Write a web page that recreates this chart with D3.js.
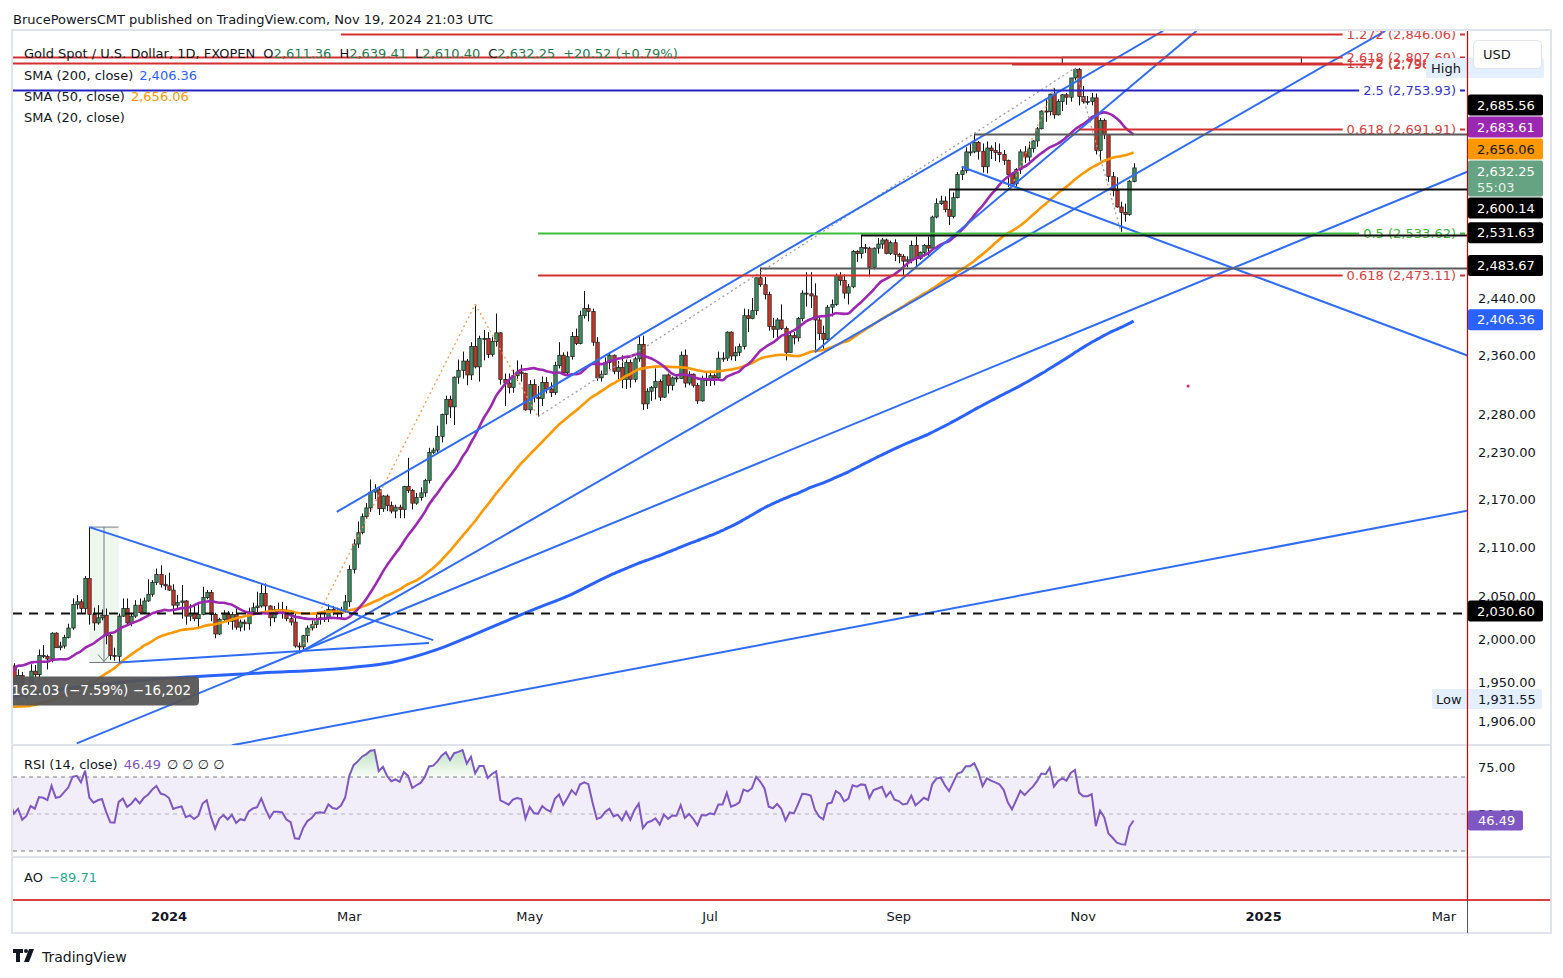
<!DOCTYPE html>
<html>
<head>
<meta charset="utf-8">
<title>Gold Spot / U.S. Dollar, 1D</title>
<script src="https://cdn.jsdelivr.net/npm/d3@7"></script>
<style>
  body { margin: 0; background: #ffffff; }
  text { font-family: "DejaVu Sans", Roboto, "Liberation Sans", sans-serif; }
</style>
</head>
<body>
<svg id="chart" width="1563" height="978"></svg>
<script>
const width = 1563, height = 978;
const plotLeft = 13, plotRight = 1467, axisRight = 1550;
const priceTop = 31, priceBottom = 745, rsiBottom = 857, aoBottom = 900, chartBottom = 933;

// closes before the visible range, only used to warm up SMA / RSI (Aug 21 - Nov 3 2023)
const warmupCloses = [1895,1898,1915,1917,1914, 1920,1937,1942,1940,1940, 1938,1926,1916,1919,1919,
  1922,1913,1908,1910,1924, 1934,1931,1930,1920,1925, 1916,1901,1875,1864,1849,
  1828,1822,1821,1820,1833, 1861,1860,1874,1869,1932, 1919,1923,1947,1974,1981,
  1973,1971,1979,1985,2006, 1996,1983,1982,1985,1992];

const candleStart = '2023-11-06';
const opens = [
  1992,1978,1969,1950,1958, 1940,1946,1963,1959,1981, 1980,1977,2007,1990,1992, 2002,2013,2041,2044,2036,
  2072,2029,2019,2025,2028, 2004,1981,1980,2027,2036, 2019,2027,2040,2031,2045, 2053,2067,2077,2065,
  2063,2058,2040,2043,2045,2027,2030,2024,2029,2049,2055,2029,2006,2023,2029,2021,2029,2014,2020,2018,2032,2037,
  2039,2054,2039,2025,2035,2035,2034,2024,2020,1992,1991,2004,2013,2017,2024,2024,2024,2035,2031,2030,2034,
  2044,2083,2114,2128,2148,2159,2179,2182,2158,2174,2162,2155,2160,2157,2186,2181,2165,2172,2178,2194,2230,
  2233,2251,2280,2300,2290,2330,2339,2352,2333,2372,2344,2383,2383,2361,2379,2391,2327,2322,2316,2332,2337,2335,
  2286,2320,2303,2301,2323,2314,2309,2346,2360,2336,2358,2386,2376,2415,2425,2421,2378,2329,2334,2350,2360,2338,2343,
  2327,2350,2327,2355,2375,2294,2311,2316,2324,2303,2333,2319,2329,2328,2360,2322,2334,2319,2298,2327,
  2326,2332,2329,2356,2356,2392,2359,2364,2372,2415,2411,2422,2469,2459,2445,2400,2396,2409,2397,2364,2387,2384,2411,
  2447,2446,2443,2409,2390,2382,2427,2431,2472,2465,2447,2456,2507,2504,2513,2512,2484,2512,2518,2524,2504,2520,
  2503,2500,2493,2495,2516,2497,2506,2516,2512,2558,2578,2582,2569,2559,2587,2622,2628,2657,2657,2672,2658,
  2634,2663,2659,2656,2653,2644,2622,2608,2630,2657,2649,2662,2674,2693,2721,2720,2748,2715,2736,2747,2743,2774,2788,
  2744,2736,2736,2742,2659,2706,2684,2619,2598,2573,2565,2562,2611.36];
const highs = [
  1994,1980,1972,1965,1962, 1947,1971,1970,1988,1993, 1982,2008,2008,1997,2005, 2018,2048,2052,2047,2075,
  2135,2037,2040,2035,2036, 2008,1990,2030,2048,2048, 2031,2046,2048,2049,2071, 2070,2084,2088,2076,
  2079,2065,2052,2064,2046,2041,2040,2041,2062,2058,2058,2031,2025,2034,2033,2032,2036,2023,2023,2037,2043,2056,
  2065,2066,2040,2039,2043,2044,2039,2032,2031,1996,2005,2016,2022,2031,2031,2034,2041,2039,2037,2038,2052,
  2088,2120,2142,2152,2165,2195,2189,2184,2175,2176,2167,2163,2163,2187,2223,2183,2178,2185,2196,2236,2236,
  2265,2281,2305,2305,2331,2354,2365,2355,2378,2431,2387,2395,2392,2385,2418,2392,2335,2335,2340,2353,2347,2336,
  2326,2327,2318,2331,2330,2323,2351,2378,2364,2365,2392,2397,2422,2450,2431,2425,2385,2339,2357,2364,2361,2352,2360,
  2354,2354,2358,2388,2387,2315,2318,2342,2327,2333,2335,2331,2334,2365,2368,2338,2335,2322,2332,2338,
  2339,2335,2365,2364,2393,2393,2372,2376,2425,2424,2440,2469,2483.67,2470,2449,2412,2412,2431,2400,2391,2392,2413,2451,
  2477,2477,2461,2414,2401,2430,2438,2475,2477,2474,2460,2509,2509,2531.63,2518,2514,2513,2527,2527,2526,2523,2525,
  2505,2503,2500,2523,2529,2507,2518,2529,2560,2586,2590,2589,2600.14,2595,2626,2634,2664,2670,2685.56,2674,2670,
  2673,2667,2672,2670,2660,2645,2625,2632,2661,2666,2673,2675,2696,2722,2740,2749,2758,2740,2748,2750,2774,2790,2790.1,
  2761,2745,2750,2749,2710,2709,2685,2626,2618,2581,2578,2614,2639.41];
const lows = [
  1965,1957,1947,1944,1935, 1931.55,1945,1956,1954,1978, 1965,1973,1990,1987,1989, 2001,2011,2035,2031,2031,
  2017,2010,2017,2022,1994, 1976,1975,1972.97,2026,2017, 2015,2025,2029,2030,2044, 2050,2064,2061,2058,
  2057,2030,2034,2024,2017,2021,2021,2013,2028,2047,2021,2001,2005,2020,2017,2011,2011,2009,2010,2011,2028,2031,
  2037,2031,2015,2020,2030,2024,2021,2016,1990,1984,1987,1996,2010,2013,2017,2020,2020,2028,2025,2025,2031,
  2038,2078,2109,2126,2145,2154,2170,2150,2154,2155,2152,2146,2146,2146,2178,2157,2163,2168,2173,2190,2228,
  2228,2243,2267,2275,2266,2321,2328,2319,2326,2342,2324,2353,2356,2358,2372,2320,2291,2308,2309,2325,2324,2285,
  2281,2296,2277,2291,2308,2303,2306,2342,2333,2334,2354,2374,2375,2411,2407,2373,2325,2324,2333,2341,2334,2327,2315,
  2314,2316,2323,2351,2286,2287,2298,2300,2298,2302,2308,2312,2323,2328,2316,2319,2316,2294,2297,2318,
  2318,2319,2327,2351,2352,2353,2352,2359,2368,2392,2410,2416,2456,2438,2394,2384,2384,2395,2353,2364,2375,2379,2407,
  2428,2426,2364,2381,2369,2381,2414,2429,2458,2439,2431,2454,2492,2497,2505,2471,2481,2504,2511,2503,2502,2493,
  2490,2472,2484,2490,2485,2495,2500,2500,2510,2556,2576,2565,2546,2556,2586,2614,2624,2651,2655,2645,2625,
  2624,2646,2643,2641,2637,2603,2605,2604,2623,2640,2643,2656,2665,2692,2704,2714,2709,2714,2721,2731,2736,2770,2730,
  2733,2731,2730,2653,2643,2677,2611,2589,2572,2536,2551,2560,2610.40];
const closes = [
  1978,1969,1950,1958,1940, 1946,1963,1959,1981,1980, 1977,2007,1990,1992,2002, 2013,2041,2044,2036,2072,
  2029,2019,2025,2028,2004, 1981,1980,2027,2036,2019, 2027,2040,2031,2045,2053, 2067,2077,2065,2063,
  2058,2040,2043,2045,2027,2030,2024,2029,2049,2055,2029,2006,2023,2029,2021,2029,2014,2020,2018,2032,2037,2039,
  2054,2039,2025,2035,2035,2034,2024,2020,1992,1991,2004,2013,2017,2024,2025,2024,2035,2031,2030,2034,2044,
  2083,2114,2128,2148,2159,2179,2182,2158,2174,2162,2155,2160,2157,2186,2181,2165,2172,2178,2194,2230,2233,
  2251,2280,2300,2290,2330,2339,2352,2333,2372,2344,2383,2383,2361,2379,2391,2327,2322,2316,2332,2337,2335,2286,
  2320,2303,2301,2323,2314,2309,2346,2360,2336,2358,2386,2376,2415,2425,2421,2378,2329,2334,2350,2360,2338,2343,2327,
  2350,2327,2355,2375,2294,2311,2316,2324,2303,2333,2319,2329,2328,2360,2322,2334,2319,2298,2327,2326,
  2332,2329,2356,2356,2392,2359,2364,2372,2415,2411,2422,2469,2459,2445,2400,2396,2409,2397,2364,2387,2384,2411,2447,
  2446,2443,2409,2390,2382,2427,2431,2472,2465,2447,2456,2507,2504,2513,2512,2484,2512,2518,2524,2504,2520,2503,
  2500,2493,2495,2516,2497,2506,2516,2512,2558,2578,2582,2569,2559,2587,2622,2628,2657,2657,2672,2658,2634,
  2663,2659,2656,2653,2644,2622,2608,2630,2657,2649,2662,2674,2693,2721,2720,2748,2715,2736,2747,2743,2774,2788,2744,
  2736,2736,2742,2659,2706,2684,2619,2598,2573,2565,2562,2612,2632.25];

const sma200EarlyDates = ['2023-11-06','2023-12-01','2024-01-02','2024-02-01','2024-03-01','2024-03-15',
  '2024-04-01','2024-04-15','2024-05-01','2024-05-15'];
const sma200EarlyValues = [1932,1946,1955,1961,1967,1973,1988,2008,2033,2053];

// horizontal levels (fib drawings and price lines)
const levelValues = [2846.06, 2807.69, 2798.42, 2796.50, 2753.93, 2691.91, 2685.56, 2600.14, 2533.62, 2531.63, 2483.67, 2473.11, 2030.60];
const levelStarts = ['2024-02-28','2023-11-06','2023-11-06','2024-10-09','2023-11-06','2024-10-31','2024-09-26',
  '2024-09-18','2024-05-03','2024-08-20','2024-07-17','2024-05-03','2023-11-06'];
const levelTexts = ['1.272 (2,846.06)','2.618 (2,807.69)','1.272 (2,798.42)','2 (2,796.50)','2.5 (2,753.93)',
  '0.618 (2,691.91)','','','0.5 (2,533.62)','','','0.618 (2,473.11)',''];
const levelKinds = ['fibRed','fibRed','fibRed','fibRed','fibBlue','fibRed','gray','black','fibGreen','black','gray','fibRed','dashed'];

// trend lines
const trendFromDates = ['2024-02-27','2024-08-05','2024-02-14','2023-11-29','2024-01-23','2023-12-04','2023-12-13','2024-09-23'];
const trendFromPrices = [2154, 2364, 1984, 1882, 1880, 2135, 1972.97, 2634];
const trendToDates = ['2024-11-28','2024-12-10','2025-02-11','2025-03-11','2025-03-11','2024-03-29','2024-03-28','2025-03-11'];
const trendToPrices = [2851, 2851, 2851, 2627.5, 2156, 1998.8, 1995.4, 2358.7];

// dotted connectors of the fib tools
const dotFromDates = ['2024-02-14','2024-04-12','2024-05-03','2024-10-30','2024-10-09'];
const dotFromPrices = [1984, 2431, 2277, 2790, 2605];
const dotToDates = ['2024-04-12','2024-05-03','2024-10-30','2024-11-14','2024-10-23'];
const dotToPrices = [2431, 2277, 2790, 2536, 2758];
const dotKinds = ['orange','orange','gray','gray','orange'];

// price axis
const priceTicks = [2440, 2360, 2280, 2230, 2170, 2110, 2050, 2000, 1950, 1906];
const badgeValues = [2685.56, 2683.61, 2656.06, 2632.25, 2600.14, 2531.63, 2483.67, 2406.36, 2030.60];
const badgeKinds = ['black','sma20','sma50','last','black','black','black','sma200','black'];
const rsiTicks = [75, 50];
const rsiLast = 46.49;

const upColor = '#3f8f61', downColor = '#c2382c';

// ---- calendar of trading days ----
const holidays = ['2023-12-25', '2024-01-01'];
const fmtDay = d3.utcFormat('%Y-%m-%d');
const days = d3.utcDays(new Date(Date.UTC(2023, 7, 21)), new Date(Date.UTC(2025, 4, 1)))
  .filter(d => d.getUTCDay() % 6 !== 0 && !holidays.includes(fmtDay(d)));
const dayIndex = new Map(days.map((d, i) => [fmtDay(d), i]));
const idx = s => dayIndex.get(s);

const x = d3.scaleLinear()
  .domain([idx('2023-11-08') - 0.2, idx('2025-03-11') - 0.5])
  .range([plotLeft, plotRight]);
const y = d3.scaleLog().domain([1880.3, 2851]).range([priceBottom, priceTop]);
const yRsi = d3.scaleLinear().domain([30, 70]).range([851, 777]);
const fmtPrice = d3.format(',.2f');

const svg = d3.select('#chart');
const defs = svg.append('defs');
defs.append('clipPath').attr('id', 'clipPrice').append('rect')
  .attr('x', plotLeft).attr('y', priceTop).attr('width', plotRight - plotLeft).attr('height', priceBottom - priceTop);
defs.append('clipPath').attr('id', 'clipRsi').append('rect')
  .attr('x', plotLeft).attr('y', priceBottom).attr('width', plotRight - plotLeft).attr('height', rsiBottom - priceBottom);
defs.append('clipPath').attr('id', 'clipOb').append('rect')
  .attr('x', plotLeft).attr('y', priceBottom).attr('width', plotRight - plotLeft).attr('height', yRsi(70) - priceBottom);
const grad = defs.append('linearGradient').attr('id', 'obGrad')
  .attr('gradientUnits', 'userSpaceOnUse').attr('x1', 0).attr('x2', 0).attr('y1', priceBottom).attr('y2', yRsi(70));
grad.append('stop').attr('offset', 0).attr('stop-color', '#4caf50').attr('stop-opacity', 0.4);
grad.append('stop').attr('offset', 1).attr('stop-color', '#4caf50').attr('stop-opacity', 0.04);

svg.append('rect').attr('width', width).attr('height', height).attr('fill', '#fff');

// header
svg.append('text').attr('x', 13).attr('y', 24).attr('font-size', 13).attr('fill', '#131722')
  .text('BrucePowersCMT published on TradingView.com, Nov 19, 2024 21:03 UTC');

// frame and pane separators
const frame = svg.append('g').attr('stroke', '#e0e3eb').attr('fill', 'none');
frame.append('rect').attr('x', plotLeft - 1).attr('y', priceTop - 1).attr('width', axisRight - plotLeft + 2)
  .attr('height', chartBottom - priceTop + 1).attr('stroke-width', 2);
frame.append('line').attr('x1', plotLeft).attr('x2', axisRight).attr('y1', priceBottom).attr('y2', priceBottom).attr('stroke-width', 2);
frame.append('line').attr('x1', plotLeft).attr('x2', axisRight).attr('y1', rsiBottom).attr('y2', rsiBottom).attr('stroke-width', 2);

// ---- price pane ----
const gPrice = svg.append('g').attr('clip-path', 'url(#clipPrice)');

// price range tool (Dec 4 high to Dec 13 low)
const prX0 = x(idx('2023-12-04')), prX1 = x(idx('2023-12-13'));
const prTop = y(2135), prBot = y(1972.97), prMid = (prX0 + prX1) / 2;
gPrice.append('rect').attr('x', prX0).attr('y', prTop).attr('width', prX1 - prX0).attr('height', prBot - prTop)
  .attr('fill', '#4caf50').attr('fill-opacity', 0.1);
[prTop, prBot].forEach(v => gPrice.append('line').attr('x1', prX0).attr('x2', prX1).attr('y1', v).attr('y2', v)
  .attr('stroke', '#787b86').attr('stroke-width', 1));
gPrice.append('line').attr('x1', prMid).attr('x2', prMid).attr('y1', prTop).attr('y2', prBot)
  .attr('stroke', '#787b86').attr('stroke-width', 1);
gPrice.append('path').attr('d', `M${prMid - 6},${prBot - 8}L${prMid},${prBot - 1}L${prMid + 6},${prBot - 8}`)
  .attr('stroke', '#787b86').attr('fill', 'none');

// candles
const first = idx(candleStart);
const n = Math.min(opens.length, highs.length, lows.length, closes.length);
const bars = d3.range(n).map(k => ({ i: first + k, o: opens[k], h: highs[k], l: lows[k], c: closes[k] }));
const px = d => Math.round(x(d.i)) + 0.5;
gPrice.append('g').selectAll('line').data(bars).join('line')
  .attr('x1', px).attr('x2', px).attr('y1', d => y(d.h)).attr('y2', d => y(d.l))
  .attr('stroke', '#111').attr('stroke-width', 1);
gPrice.append('g').selectAll('rect').data(bars).join('rect')
  .attr('x', d => px(d) - 1.7).attr('width', 3.4)
  .attr('y', d => y(Math.max(d.o, d.c)))
  .attr('height', d => Math.max(1, Math.abs(y(d.o) - y(d.c))))
  .attr('fill', d => d.c >= d.o ? upColor : downColor)
  .attr('stroke', '#1a1a1a').attr('stroke-width', 0.7);

// moving averages
const allCloses = warmupCloses.concat(closes.slice(0, n));
function sma(len) {
  const out = [];
  for (let k = len - 1; k < allCloses.length; k++) {
    out.push({ i: k, v: d3.mean(allCloses.slice(k - len + 1, k + 1)) });
  }
  return out;
}
const sma20 = sma(20).filter(d => d.i >= first - 2);
const sma50 = sma(50).filter(d => d.i >= first - 2);
const sma200 = sma200EarlyDates.map((d, j) => ({ i: idx(d), v: sma200EarlyValues[j] }))
  .concat(sma(200));
const maLine = d3.line().x(d => x(d.i)).y(d => y(d.v)).curve(d3.curveMonotoneX);
gPrice.append('path').datum(sma200).attr('d', maLine).attr('fill', 'none').attr('stroke', '#2962ff').attr('stroke-width', 3);
gPrice.append('path').datum(sma50).attr('d', maLine).attr('fill', 'none').attr('stroke', '#ff9800').attr('stroke-width', 2.6);
gPrice.append('path').datum(sma20).attr('d', maLine).attr('fill', 'none').attr('stroke', '#9c27b0').attr('stroke-width', 2.6);

// dotted connectors
dotFromDates.forEach((d, j) => {
  gPrice.append('line')
    .attr('x1', x(idx(d))).attr('y1', y(dotFromPrices[j]))
    .attr('x2', x(idx(dotToDates[j]))).attr('y2', y(dotToPrices[j]))
    .attr('stroke', dotKinds[j] === 'orange' ? '#ff9850' : '#a0a0a0')
    .attr('stroke-width', 1.3).attr('stroke-dasharray', '2,3');
});

// trend lines
trendFromDates.forEach((d, j) => {
  gPrice.append('line')
    .attr('x1', x(idx(d))).attr('y1', y(trendFromPrices[j]))
    .attr('x2', x(idx(trendToDates[j]))).attr('y2', y(trendToPrices[j]))
    .attr('stroke', '#2f6cf6').attr('stroke-width', 2);
});

// box around the top fib cluster
gPrice.append('rect')
  .attr('x', x(idx('2024-10-25'))).attr('y', y(2807.69))
  .attr('width', x(idx('2025-01-14')) - x(idx('2024-10-25'))).attr('height', y(2796.5) - y(2807.69))
  .attr('fill', 'none').attr('stroke', '#111').attr('stroke-width', 1);

// horizontal levels
const levelStyle = {
  fibRed: { stroke: '#d32f2f', text: '#d84040' },
  fibBlue: { stroke: '#2424c4', text: '#3434c8' },
  fibGreen: { stroke: '#3cc03c', text: '#34b834' },
  black: { stroke: '#111111' },
  gray: { stroke: '#5a5a5a' },
  dashed: { stroke: '#111111', dash: '9,7' }
};
const textEnd = 1456;
levelValues.forEach((v, j) => {
  const st = levelStyle[levelKinds[j]];
  const ly = Math.round(y(v)) + 0.5;
  const x0 = Math.max(plotLeft, x(idx(levelStarts[j])));
  if (levelTexts[j]) {
    const t = gPrice.append('text').attr('x', textEnd).attr('y', ly + 4.5).attr('text-anchor', 'end')
      .attr('font-size', 13).attr('fill', st.text).text(levelTexts[j]);
    const tw = t.node().getComputedTextLength();
    gPrice.insert('line', 'text').attr('x1', x0).attr('x2', textEnd - tw - 4).attr('y1', ly).attr('y2', ly)
      .attr('stroke', st.stroke).attr('stroke-width', 2);
    gPrice.insert('line', 'text').attr('x1', textEnd + 4).attr('x2', plotRight - 2).attr('y1', ly).attr('y2', ly)
      .attr('stroke', st.stroke).attr('stroke-width', 2);
  } else {
    gPrice.append('line').attr('x1', x0).attr('x2', plotRight).attr('y1', ly).attr('y2', ly)
      .attr('stroke', st.stroke).attr('stroke-width', 2).attr('stroke-dasharray', st.dash || null);
  }
});

// small marker
gPrice.append('circle').attr('cx', x(idx('2024-12-06'))).attr('cy', y(2318)).attr('r', 1.5).attr('fill', '#e91e63');

// price range label
const prW = 196;
gPrice.append('rect').attr('x', prMid - prW / 2 - 3).attr('y', prBot + 14).attr('width', prW).attr('height', 29)
  .attr('rx', 4).attr('fill', '#555555').attr('fill-opacity', 0.95);
gPrice.append('text').attr('x', prMid - 8).attr('y', prBot + 33).attr('text-anchor', 'middle')
  .attr('font-size', 13.5).attr('fill', '#fff').text('\u2212162.03 (\u22127.59%) \u221216,202');

// High / Low markers
svg.append('rect').attr('x', 1426).attr('y', 58).attr('width', 118).attr('height', 20).attr('rx', 2).attr('fill', '#e3effd');
svg.append('text').attr('x', 1431).attr('y', 73).attr('font-size', 13).attr('fill', '#131722').text('High');
svg.append('rect').attr('x', 1432).attr('y', 689).attr('width', 110).attr('height', 20).attr('rx', 2).attr('fill', '#e3effd');
svg.append('text').attr('x', 1436).attr('y', 704).attr('font-size', 13).attr('fill', '#131722').text('Low');
svg.append('text').attr('x', 1478).attr('y', 704).attr('font-size', 13).attr('fill', '#131722').text(fmtPrice(1931.55));

// legend
const legend = svg.append('g').attr('font-size', 13).attr('fill', '#131722');
const valColor = '#2a7a4e';
const l1 = legend.append('text').attr('x', 24).attr('y', 58);
l1.append('tspan').text('Gold Spot / U.S. Dollar, 1D, FXOPEN');
[['O', opens[n - 1]], ['H', highs[n - 1]], ['L', lows[n - 1]], ['C', closes[n - 1]]].forEach(([k, v], j) => {
  l1.append('tspan').attr('dx', 8).text(k);
  l1.append('tspan').attr('fill', valColor).text(fmtPrice(v));
});
l1.append('tspan').attr('dx', 8).attr('fill', valColor).text('+20.52 (+0.79%)');
const smaLegend = [['SMA (200, close)', '2,406.36', '#2962ff'], ['SMA (50, close)', '2,656.06', '#ff9800'], ['SMA (20, close)', '', '']];
smaLegend.forEach(([name, val, col], j) => {
  const t = legend.append('text').attr('x', 24).attr('y', 80 + j * 21);
  t.append('tspan').text(name);
  if (val) t.append('tspan').attr('dx', 6).attr('fill', col).text(val);
});

// ---- RSI pane ----
const allRsi = (function (vals, len) {
  const out = vals.map(() => null);
  let g = 0, l = 0;
  for (let k = 1; k <= len; k++) { const dd = vals[k] - vals[k - 1]; if (dd > 0) g += dd; else l -= dd; }
  g /= len; l /= len; out[len] = 100 - 100 / (1 + g / l);
  for (let k = len + 1; k < vals.length; k++) {
    const dd = vals[k] - vals[k - 1];
    g = (g * (len - 1) + Math.max(dd, 0)) / len;
    l = (l * (len - 1) + Math.max(-dd, 0)) / len;
    out[k] = l === 0 ? 100 : 100 - 100 / (1 + g / l);
  }
  return out;
})(allCloses, 14);
const rsiPts = allRsi.map((v, k) => ({ i: k, v })).filter(d => d.v !== null && d.i >= first - 2);
const gRsi = svg.append('g').attr('clip-path', 'url(#clipRsi)');
gRsi.append('rect').attr('x', plotLeft).attr('y', yRsi(70)).attr('width', plotRight - plotLeft)
  .attr('height', yRsi(30) - yRsi(70)).attr('fill', '#7e57c2').attr('fill-opacity', 0.1);
[[70, '#787b86'], [50, '#b2b5be'], [30, '#787b86']].forEach(([v, c]) => {
  gRsi.append('line').attr('x1', plotLeft).attr('x2', plotRight).attr('y1', yRsi(v)).attr('y2', yRsi(v))
    .attr('stroke', c).attr('stroke-dasharray', '4,4').attr('stroke-width', 1);
});
gRsi.append('path').datum(rsiPts).attr('clip-path', 'url(#clipOb)')
  .attr('d', d3.area().x(d => x(d.i)).y0(yRsi(70)).y1(d => yRsi(d.v)))
  .attr('fill', 'url(#obGrad)');
gRsi.append('path').datum(rsiPts).attr('d', d3.line().x(d => x(d.i)).y(d => yRsi(d.v)))
  .attr('fill', 'none').attr('stroke', '#7e57c2').attr('stroke-width', 2);
const rsiLbl = svg.append('text').attr('x', 24).attr('y', 769).attr('font-size', 13).attr('fill', '#131722');
rsiLbl.append('tspan').text('RSI (14, close)');
rsiLbl.append('tspan').attr('dx', 6).attr('fill', '#7e57c2').text(rsiLast.toFixed(2));
rsiLbl.append('tspan').attr('dx', 6).text('\u2205  \u2205  \u2205  \u2205');

// AO pane label
const aoLbl = svg.append('text').attr('x', 24).attr('y', 882).attr('font-size', 13).attr('fill', '#131722');
aoLbl.append('tspan').text('AO');
aoLbl.append('tspan').attr('dx', 6).attr('fill', '#22ab94').text('\u221289.71');

// red cross lines
svg.append('line').attr('x1', plotLeft).attr('x2', axisRight).attr('y1', aoBottom).attr('y2', aoBottom)
  .attr('stroke', '#cc0000').attr('stroke-width', 1.5);
svg.append('line').attr('x1', plotRight + 0.5).attr('x2', plotRight + 0.5).attr('y1', priceTop).attr('y2', aoBottom)
  .attr('stroke', '#cc0000').attr('stroke-width', 1.2);
svg.append('line').attr('x1', plotRight + 0.5).attr('x2', plotRight + 0.5).attr('y1', aoBottom).attr('y2', chartBottom)
  .attr('stroke', '#555').attr('stroke-width', 1);

// ---- price axis ----
const axis = svg.append('g').attr('font-size', 13);
priceTicks.forEach(v => {
  axis.append('text').attr('x', 1478).attr('y', y(v) + 4.5).attr('fill', '#131722').text(fmtPrice(v));
});
rsiTicks.forEach(v => {
  axis.append('text').attr('x', 1478).attr('y', yRsi(v) + 4.5).attr('fill', '#131722').text(v.toFixed(2));
});

// badges with simple overlap avoidance
const badgeStyle = {
  black: { bg: '#000000', fg: '#ffffff' },
  sma20: { bg: '#9c27b0', fg: '#ffffff' },
  sma50: { bg: '#ff9800', fg: '#131722' },
  sma200: { bg: '#2962ff', fg: '#ffffff' },
  last: { bg: '#66a382', fg: '#ffffff' }
};
const badges = badgeValues.map((v, j) => ({ v, kind: badgeKinds[j], y0: y(v), h: badgeKinds[j] === 'last' ? 36 : 21 }))
  .sort((a, b) => a.y0 - b.y0);
let clusters = badges.map(b => ({ items: [b] }));
function placeCluster(c) {
  let off = 0;
  const rel = c.items.map(d => { const r = off + d.h / 2; off += d.h + 1; return r; });
  c.top = d3.mean(c.items, d => d.y0) - d3.mean(rel) - 2;
  c.items.forEach((d, k) => { d.y = c.top + rel[k]; });
  c.bottom = c.top + off;
}
clusters.forEach(placeCluster);
let merged = true;
while (merged) {
  merged = false;
  for (let k = 0; k < clusters.length - 1; k++) {
    if (clusters[k].bottom > clusters[k + 1].top) {
      clusters[k].items = clusters[k].items.concat(clusters[k + 1].items);
      clusters.splice(k + 1, 1);
      placeCluster(clusters[k]);
      merged = true;
      break;
    }
  }
}
badges.forEach(b => {
  const st = badgeStyle[b.kind];
  axis.append('rect').attr('x', 1468).attr('y', b.y - b.h / 2).attr('width', 75).attr('height', b.h)
    .attr('rx', 2).attr('fill', st.bg);
  if (b.kind === 'last') {
    axis.append('text').attr('x', 1477).attr('y', b.y - 3).attr('fill', st.fg).text(fmtPrice(b.v));
    axis.append('text').attr('x', 1477).attr('y', b.y + 13).attr('fill', '#e4f2ea').text('55:03');
  } else {
    axis.append('text').attr('x', 1477).attr('y', b.y + 4.5).attr('fill', st.fg).text(fmtPrice(b.v));
  }
});
axis.append('rect').attr('x', 1468).attr('y', yRsi(rsiLast) - 10).attr('width', 55).attr('height', 20)
  .attr('rx', 2).attr('fill', '#7e57c2');
axis.append('text').attr('x', 1478).attr('y', yRsi(rsiLast) + 4.5).attr('fill', '#fff').text(rsiLast.toFixed(2));

// currency button
svg.append('rect').attr('x', 1473.5).attr('y', 40.5).attr('width', 68).attr('height', 28).attr('rx', 4)
  .attr('fill', '#fff').attr('stroke', '#e0e3eb');
svg.append('text').attr('x', 1483).attr('y', 59).attr('font-size', 13).attr('fill', '#131722').text('USD');

// ---- time axis ----
const monthStarts = [];
let lastMonth = null;
days.forEach((d, k) => {
  const m = d.getUTCFullYear() * 12 + d.getUTCMonth();
  if (m !== lastMonth) { monthStarts.push({ d, k }); lastMonth = m; }
});
monthStarts.filter(s => s.d.getUTCMonth() % 2 === 0 && x(s.k) > plotLeft + 10 && x(s.k) < axisRight)
  .forEach(s => {
    const isYear = s.d.getUTCMonth() === 0;
    svg.append('text').attr('x', x(s.k)).attr('y', 921).attr('text-anchor', 'middle').attr('font-size', 13)
      .attr('font-weight', isYear ? 'bold' : 'normal').attr('fill', '#131722')
      .text(isYear ? d3.utcFormat('%Y')(s.d) : d3.utcFormat('%b')(s.d));
  });

// footer logo
const logo = svg.append('g').attr('fill', '#131722');
logo.append('path').attr('d', 'M13,949h10v4h-3v9h-4v-9h-3z');
logo.append('circle').attr('cx', 26).attr('cy', 951).attr('r', 2);
logo.append('path').attr('d', 'M29,949h5l-5,13h-5z');
svg.append('text').attr('x', 42).attr('y', 962).attr('font-size', 14).attr('fill', '#131722').text('TradingView');
</script>
</body>
</html>
